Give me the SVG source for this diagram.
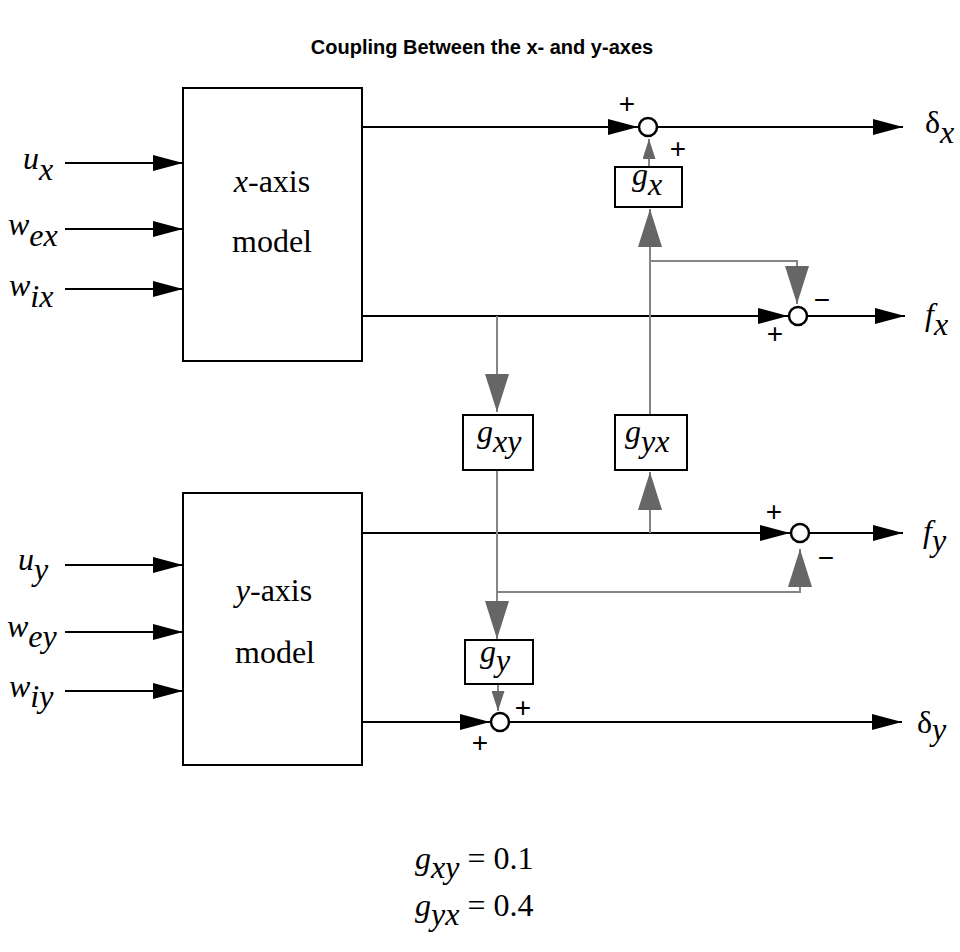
<svg xmlns="http://www.w3.org/2000/svg" width="960" height="952" viewBox="0 0 960 952">
<style>
.box{fill:#fff;stroke:#000;stroke-width:2}
.sum{fill:#fff;stroke:#000;stroke-width:2.5}
.bl{fill:none;stroke:#000;stroke-width:2}
.gl{fill:none;stroke:#858585;stroke-width:2}
.m{font-family:"Liberation Serif","Times New Roman",serif;font-size:32px;fill:#000}
.i{font-style:italic}
.sg{font-family:"Liberation Sans",Arial,sans-serif;font-size:28px;fill:#000;text-anchor:middle}
.title{font-family:"Liberation Sans",Arial,sans-serif;font-size:20px;font-weight:bold;fill:#000;text-anchor:middle}
</style>
<defs>
<marker id="ab" viewBox="0 0 30 16" refX="30" refY="8" markerWidth="30" markerHeight="16" markerUnits="userSpaceOnUse" orient="auto"><path d="M0,0 L30,8 L0,16 z" fill="#000"/></marker>
<marker id="ag" viewBox="0 0 38 24" refX="38" refY="12" markerWidth="38" markerHeight="24" markerUnits="userSpaceOnUse" orient="auto"><path d="M0,0 L38,12 L0,24 z" fill="#666"/></marker>
<marker id="as" viewBox="0 0 20 13" refX="20" refY="6.5" markerWidth="20" markerHeight="13" markerUnits="userSpaceOnUse" orient="auto"><path d="M0,0 L20,6.5 L0,13 z" fill="#666"/></marker>
</defs>
<rect width="960" height="952" fill="#fff"/>
<text class="title" x="482" y="54">Coupling Between the x- and y-axes</text>

<g id="connectors">
<path class="bl" d="M65,163 H183" marker-end="url(#ab)"/>
<path class="bl" d="M65,229 H183" marker-end="url(#ab)"/>
<path class="bl" d="M65,289 H183" marker-end="url(#ab)"/>
<path class="bl" d="M65,565 H183" marker-end="url(#ab)"/>
<path class="bl" d="M65,632 H183" marker-end="url(#ab)"/>
<path class="bl" d="M65,691 H183" marker-end="url(#ab)"/>
<path class="bl" d="M362,127 H638" marker-end="url(#ab)"/>
<path class="bl" d="M657,127 H903" marker-end="url(#ab)"/>
<path class="bl" d="M362,316 H788" marker-end="url(#ab)"/>
<path class="bl" d="M807,316 H905" marker-end="url(#ab)"/>
<path class="bl" d="M362,533 H790" marker-end="url(#ab)"/>
<path class="bl" d="M809,533 H903" marker-end="url(#ab)"/>
<path class="bl" d="M362,722 H490" marker-end="url(#ab)"/>
<path class="bl" d="M509,722 H902" marker-end="url(#ab)"/>
<path class="gl" d="M497,316 V412" marker-end="url(#ag)"/>
<path class="gl" d="M497,470 V639" marker-end="url(#ag)"/>
<path class="gl" d="M497,592 H800 V549" marker-end="url(#ag)"/>
<path class="gl" d="M498,684 V711" marker-end="url(#as)"/>
<path class="gl" d="M650,533 V472" marker-end="url(#ag)"/>
<path class="gl" d="M650,415 V209" marker-end="url(#ag)"/>
<path class="gl" d="M650,261 H797 V304" marker-end="url(#ag)"/>
<path class="gl" d="M649,167 V139" marker-end="url(#as)"/>
</g>

<g id="x-axis-model">
<rect class="box" x="183" y="88" width="179" height="273"/>
<text class="m" x="272" y="192" text-anchor="middle"><tspan class="i">x</tspan>-axis</text>
<text class="m" x="272" y="252" text-anchor="middle">model</text>
</g>
<g id="y-axis-model">
<rect class="box" x="183" y="493" width="179" height="272"/>
<text class="m" x="274" y="601" text-anchor="middle"><tspan class="i">y</tspan>-axis</text>
<text class="m" x="275" y="663" text-anchor="middle">model</text>
</g>

<g id="g-x">
<rect class="box" x="615" y="167" width="67" height="40"/>
<text class="m i" x="632" y="185">g<tspan dy="10">x</tspan></text>
</g>
<g id="g-xy">
<rect class="box" x="463" y="415" width="70" height="55"/>
<text class="m i" x="477" y="442">g<tspan dy="10">xy</tspan></text>
</g>
<g id="g-yx">
<rect class="box" x="615" y="415" width="72" height="55"/>
<text class="m i" x="625" y="442">g<tspan dy="10">yx</tspan></text>
</g>
<g id="g-y">
<rect class="box" x="465" y="640" width="68" height="44"/>
<text class="m i" x="480" y="662">g<tspan dy="9">y</tspan></text>
</g>

<g id="sum-dx">
<circle class="sum" cx="648" cy="127" r="9"/>
<text class="sg" x="627" y="113">+</text>
<text class="sg" x="678" y="158">+</text>
</g>
<g id="sum-fx">
<circle class="sum" cx="798" cy="316" r="9"/>
<text class="sg" x="822" y="309">−</text>
<text class="sg" x="775" y="343">+</text>
</g>
<g id="sum-fy">
<circle class="sum" cx="800" cy="533" r="9"/>
<text class="sg" x="774" y="521">+</text>
<text class="sg" x="826" y="567">−</text>
</g>
<g id="sum-dy">
<circle class="sum" cx="500" cy="722" r="9"/>
<text class="sg" x="523" y="717">+</text>
<text class="sg" x="480" y="752">+</text>
</g>

<g id="inputs">
<text class="m i" x="23" y="169">u<tspan dy="11">x</tspan></text>
<text class="m i" x="8" y="235">w<tspan dy="11">ex</tspan></text>
<text class="m i" x="9" y="296">w<tspan dy="11">ix</tspan></text>
<text class="m i" x="18" y="570">u<tspan dy="10">y</tspan></text>
<text class="m i" x="7" y="637">w<tspan dy="10">ey</tspan></text>
<text class="m i" x="9" y="697">w<tspan dy="10">iy</tspan></text>
</g>
<g id="outputs">
<text class="m" x="925" y="133">δ<tspan class="i" dy="10">x</tspan></text>
<text class="m i" x="925" y="325">f<tspan dy="10">x</tspan></text>
<text class="m i" x="923" y="542">f<tspan dy="9">y</tspan></text>
<text class="m" x="917" y="733">δ<tspan class="i" dy="7">y</tspan></text>
</g>

<g id="equations">
<text class="m" x="415" y="869"><tspan class="i">g</tspan><tspan class="i" dy="9">xy</tspan><tspan dy="-9"> = 0.1</tspan></text>
<text class="m" x="415" y="916"><tspan class="i">g</tspan><tspan class="i" dy="9">yx</tspan><tspan dy="-9"> = 0.4</tspan></text>
</g>
</svg>
